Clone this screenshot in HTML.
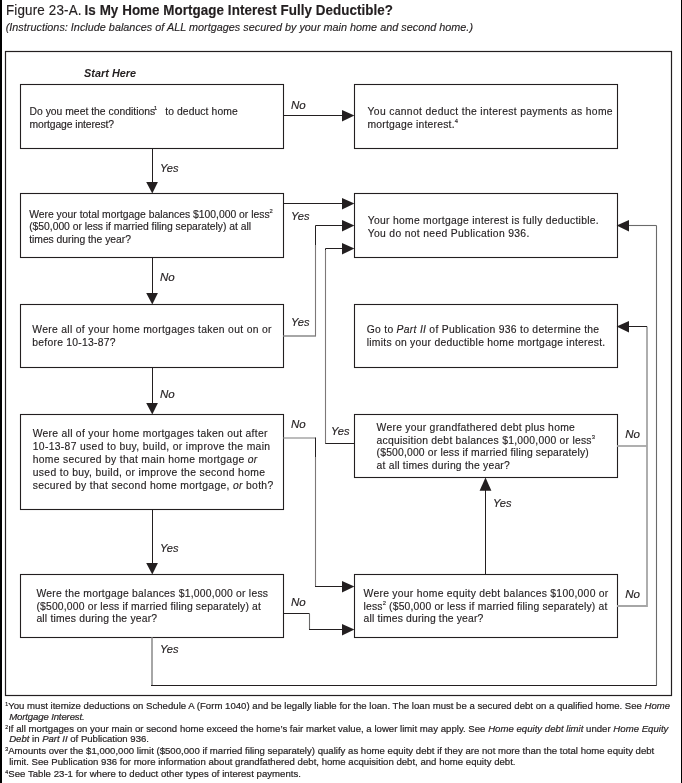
<!DOCTYPE html>
<html><head><meta charset="utf-8"><style>
html,body{margin:0;padding:0;background:#fff;}
body{width:682px;height:783px;overflow:hidden;position:relative;}
svg{position:absolute;left:0;top:0;will-change:transform;}
text.fn{stroke-width:0.2px;}
text{font-family:"Liberation Sans",sans-serif;fill:#231f20;stroke:#231f20;stroke-width:0.15px;white-space:pre;}
</style></head><body>
<svg width="682" height="783" viewBox="0 0 682 783">
<rect x="0" y="0" width="2" height="783" fill="#000"/>
<rect x="681" y="0" width="1" height="783" fill="#000"/>
<rect x="20.5" y="84.5" width="263" height="64" fill="none" stroke="#231f20" stroke-width="1.1"/>
<rect x="354.5" y="84.5" width="263" height="64" fill="none" stroke="#231f20" stroke-width="1.1"/>
<rect x="20.5" y="193.5" width="263" height="64" fill="none" stroke="#231f20" stroke-width="1.1"/>
<rect x="354.5" y="193.5" width="263" height="64" fill="none" stroke="#231f20" stroke-width="1.1"/>
<rect x="20.5" y="304.5" width="263" height="63" fill="none" stroke="#231f20" stroke-width="1.1"/>
<rect x="354.5" y="304.5" width="263" height="63" fill="none" stroke="#231f20" stroke-width="1.1"/>
<rect x="20.5" y="414.5" width="263" height="95" fill="none" stroke="#231f20" stroke-width="1.1"/>
<rect x="354.5" y="414.5" width="263" height="63" fill="none" stroke="#231f20" stroke-width="1.1"/>
<rect x="20.5" y="574.5" width="263" height="63" fill="none" stroke="#231f20" stroke-width="1.1"/>
<rect x="354.5" y="574.5" width="263" height="63" fill="none" stroke="#231f20" stroke-width="1.1"/>
<rect x="5.5" y="51.5" width="666" height="644" fill="none" stroke="#231f20" stroke-width="1.2"/>
<path d="M283.5,115.5 L343,115.5" fill="none" stroke="#231f20" stroke-width="1.0"/>
<polygon points="342,109.9 354.4,115.5 342,121.6" fill="#231f20"/>
<path d="M152.5,148.5 L152.5,183" fill="none" stroke="#231f20" stroke-width="1.0"/>
<polygon points="146.2,182 157.9,182 152.3,193.4" fill="#231f20"/>
<path d="M152.5,257.5 L152.5,294" fill="none" stroke="#231f20" stroke-width="1.0"/>
<polygon points="146.2,293 157.9,293 152.3,304.4" fill="#231f20"/>
<path d="M152.5,367.5 L152.5,404" fill="none" stroke="#231f20" stroke-width="1.0"/>
<polygon points="146.2,403 157.9,403 152.3,414.4" fill="#231f20"/>
<path d="M152.5,509.5 L152.5,564" fill="none" stroke="#231f20" stroke-width="1.0"/>
<polygon points="146.2,563 157.9,563 152.3,574.4" fill="#231f20"/>
<path d="M283.5,203.5 L343,203.5" fill="none" stroke="#231f20" stroke-width="1.0"/>
<polygon points="342,197.9 354.4,203.5 342,209.6" fill="#231f20"/>
<path d="M283.5,336 L315.5,336" fill="none" stroke="#a6a6a6" stroke-width="1.8"/>
<path d="M315.5,336.5 L315.5,245" fill="none" stroke="#7d7878" stroke-width="1.1"/>
<path d="M315.5,245 L315.5,225.5 L343,225.5" fill="none" stroke="#231f20" stroke-width="1.0"/>
<polygon points="342,219.9 354.4,225.5 342,231.6" fill="#231f20"/>
<path d="M354,443.5 L325,443.5" fill="none" stroke="#231f20" stroke-width="1.0"/>
<path d="M325.5,443.5 L325.5,250" fill="none" stroke="#7d7878" stroke-width="1.1"/>
<path d="M325.5,250 L325.5,248.5 L343,248.5" fill="none" stroke="#231f20" stroke-width="1.0"/>
<polygon points="342,242.9 354.4,248.5 342,254.6" fill="#231f20"/>
<path d="M283.5,438 L315.5,438" fill="none" stroke="#a6a6a6" stroke-width="1.6"/>
<path d="M315.5,437.5 L315.5,457" fill="none" stroke="#231f20" stroke-width="1.0"/>
<path d="M315.5,457 L315.5,586.5" fill="none" stroke="#7d7878" stroke-width="1.1"/>
<path d="M315,586.5 L343,586.5" fill="none" stroke="#231f20" stroke-width="1.0"/>
<polygon points="342,580.9 354.4,586.5 342,592.6" fill="#231f20"/>
<path d="M283.5,613.5 L309.5,613.5" fill="none" stroke="#231f20" stroke-width="1.0"/>
<path d="M309.5,613.5 L309.5,629.5" fill="none" stroke="#6a6a6a" stroke-width="1.1"/>
<path d="M309,629.5 L343,629.5" fill="none" stroke="#231f20" stroke-width="1.0"/>
<polygon points="342,623.9 354.4,629.5 342,635.6" fill="#231f20"/>
<path d="M152,637.5 L152,685.5" fill="none" stroke="#a6a6a6" stroke-width="2.0"/>
<path d="M151,685.5 L656.5,685.5 L656.5,684" fill="none" stroke="#231f20" stroke-width="1.0"/>
<path d="M656.5,685 L656.5,225.5" fill="none" stroke="#6a6a6a" stroke-width="1.1"/>
<path d="M656.5,225.5 L628,225.5" fill="none" stroke="#6a6a6a" stroke-width="1.1"/>
<polygon points="629,219.9 616.6,225.5 629,231.6" fill="#231f20"/>
<path d="M485.5,574 L485.5,489" fill="none" stroke="#231f20" stroke-width="1.0"/>
<polygon points="479.6,490.7 491.4,490.7 485.5,477.5" fill="#231f20"/>
<path d="M617,446 L647,446" fill="none" stroke="#a6a6a6" stroke-width="1.8"/>
<path d="M617,606 L647,606 L647,326.5" fill="none" stroke="#a6a6a6" stroke-width="1.8"/>
<path d="M647,326.5 L628,326.5" fill="none" stroke="#231f20" stroke-width="1.0"/>
<polygon points="629,320.9 616.6,326.5 629,332.6" fill="#231f20"/>
<text x="29.5" y="114.8" font-size="10.35" textLength="127.7" lengthAdjust="spacing" >Do you meet the conditions<tspan font-size="5.8" baseline-shift="5.3" dx="-1.2">1</tspan></text>
<text x="165.2" y="114.8" font-size="10.35" textLength="72.5" lengthAdjust="spacing" >to deduct home</text>
<text x="29.5" y="127.9" font-size="10.35" textLength="84.6" lengthAdjust="spacing" >mortgage interest?</text>
<text x="367.5" y="114.8" font-size="10.35" textLength="245.1" lengthAdjust="spacing" >You cannot deduct the interest payments as home</text>
<text x="367.5" y="127.9" font-size="10.35" textLength="90.5" lengthAdjust="spacing" >mortgage interest.<tspan font-size="5.8" baseline-shift="5.3" dx="0">4</tspan></text>
<text x="29.2" y="217.6" font-size="10.35" textLength="243.6" lengthAdjust="spacing" >Were your total mortgage balances $100,000 or less<tspan font-size="5.8" baseline-shift="5.3" dx="0">2</tspan></text>
<text x="29.2" y="230.3" font-size="10.35" textLength="221.8" lengthAdjust="spacing" >($50,000 or less if married filing separately) at all</text>
<text x="29.2" y="242.5" font-size="10.35" textLength="101.7" lengthAdjust="spacing" >times during the year?</text>
<text x="32.3" y="332.9" font-size="10.35" textLength="239.2" lengthAdjust="spacing" >Were all of your home mortgages taken out on or</text>
<text x="32.3" y="345.8" font-size="10.35" textLength="83.2" lengthAdjust="spacing" >before 10-13-87?</text>
<text x="32.7" y="436.8" font-size="10.35" textLength="234.7" lengthAdjust="spacing" >Were all of your home mortgages taken out after</text>
<text x="32.7" y="449.8" font-size="10.35" textLength="237.4" lengthAdjust="spacing" >10-13-87 used to buy, build, or improve the main</text>
<text x="32.7" y="462.7" font-size="10.35" textLength="224.5" lengthAdjust="spacing" >home secured by that main home mortgage <tspan font-style="italic">or</tspan></text>
<text x="32.7" y="476.0" font-size="10.35" textLength="232.3" lengthAdjust="spacing" >used to buy, build, or improve the second home</text>
<text x="32.7" y="489.0" font-size="10.35" textLength="240.5" lengthAdjust="spacing" >secured by that second home mortgage, <tspan font-style="italic">or</tspan> both?</text>
<text x="36.4" y="597.0" font-size="10.35" textLength="231.6" lengthAdjust="spacing" >Were the mortgage balances $1,000,000 or less</text>
<text x="36.4" y="610.0" font-size="10.35" textLength="224.5" lengthAdjust="spacing" >($500,000 or less if married filing separately) at</text>
<text x="36.4" y="622.0" font-size="10.35" textLength="120.7" lengthAdjust="spacing" >all times during the year?</text>
<text x="367.7" y="223.9" font-size="10.35" textLength="231.0" lengthAdjust="spacing" >Your home mortgage interest is fully deductible.</text>
<text x="367.7" y="236.8" font-size="10.35" textLength="161.6" lengthAdjust="spacing" >You do not need Publication 936.</text>
<text x="366.7" y="332.9" font-size="10.35" textLength="232.4" lengthAdjust="spacing" >Go to <tspan font-style="italic">Part II</tspan> of Publication 936 to determine the</text>
<text x="366.7" y="345.8" font-size="10.35" textLength="238.5" lengthAdjust="spacing" >limits on your deductible home mortgage interest.</text>
<text x="376.6" y="431.0" font-size="10.35" textLength="198.2" lengthAdjust="spacing" >Were your grandfathered debt plus home</text>
<text x="376.6" y="444.0" font-size="10.35" textLength="218.4" lengthAdjust="spacing" >acquisition debt balances $1,000,000 or less<tspan font-size="5.8" baseline-shift="5.3" dx="0">3</tspan></text>
<text x="376.6" y="456.0" font-size="10.35" textLength="212.2" lengthAdjust="spacing" >($500,000 or less if married filing separately)</text>
<text x="376.6" y="469.0" font-size="10.35" textLength="133.2" lengthAdjust="spacing" >at all times during the year?</text>
<text x="363.6" y="597.0" font-size="10.35" textLength="244.7" lengthAdjust="spacing" >Were your home equity debt balances $100,000 or</text>
<text x="363.6" y="610.0" font-size="10.35" textLength="243.7" lengthAdjust="spacing" >less<tspan font-size="5.8" baseline-shift="5.3" dx="0">2</tspan> ($50,000 or less if married filing separately) at</text>
<text x="363.6" y="622.0" font-size="10.35" textLength="119.7" lengthAdjust="spacing" >all times during the year?</text>
<text transform="translate(0 14.9) scale(1 1.08)" x="6.0" y="0" font-size="13.4" textLength="75.5" lengthAdjust="spacing" >Figure 23-A.</text>
<text transform="translate(0 14.9) scale(1 1.08)" x="84.6" y="0" font-size="13.4" textLength="308.4" lengthAdjust="spacing" font-weight="bold">Is My Home Mortgage Interest Fully Deductible?</text>
<text x="5.7" y="31.2" font-size="10.8" textLength="467.3" lengthAdjust="spacing" font-style="italic">(Instructions: Include balances of ALL mortgages secured by your main home and second home.)</text>
<text transform="translate(0 709.0) scale(1 1.04)" x="5.3" y="0" font-size="9.6" textLength="664.9" lengthAdjust="spacing" class="fn"><tspan font-size="5.2" baseline-shift="3.4" dx="0">1</tspan><tspan dx="0.8"></tspan>You must itemize deductions on Schedule A (Form 1040) and be legally liable for the loan. The loan must be a secured debt on a qualified home. See <tspan font-style="italic">Home</tspan></text>
<text transform="translate(0 720.0) scale(1 1.04)" x="9.2" y="0" font-size="9.6" textLength="75.5" lengthAdjust="spacing" class="fn"><tspan font-style="italic">Mortgage Interest.</tspan></text>
<text transform="translate(0 732.0) scale(1 1.04)" x="5.3" y="0" font-size="9.6" textLength="663.1" lengthAdjust="spacing" class="fn"><tspan font-size="5.2" baseline-shift="3.4" dx="0">2</tspan><tspan dx="0.8"></tspan>If all mortgages on your main or second home exceed the home’s fair market value, a lower limit may apply. See <tspan font-style="italic">Home equity debt limit</tspan> under <tspan font-style="italic">Home Equity</tspan></text>
<text transform="translate(0 742.0) scale(1 1.04)" x="9.2" y="0" font-size="9.6" textLength="139.8" lengthAdjust="spacing" class="fn"><tspan font-style="italic">Debt</tspan> in <tspan font-style="italic">Part II</tspan> of Publication 936.</text>
<text transform="translate(0 754.0) scale(1 1.04)" x="5.3" y="0" font-size="9.6" textLength="649.0" lengthAdjust="spacing" class="fn"><tspan font-size="5.2" baseline-shift="3.4" dx="0">3</tspan><tspan dx="0.8"></tspan>Amounts over the $1,000,000 limit ($500,000 if married filing separately) qualify as home equity debt if they are not more than the total home equity debt</text>
<text transform="translate(0 765.0) scale(1 1.04)" x="9.2" y="0" font-size="9.6" textLength="506.3" lengthAdjust="spacing" class="fn">limit. See Publication 936 for more information about grandfathered debt, home acquisition debt, and home equity debt.</text>
<text transform="translate(0 777.0) scale(1 1.04)" x="5.3" y="0" font-size="9.6" textLength="295.7" lengthAdjust="spacing" class="fn"><tspan font-size="5.2" baseline-shift="3.4" dx="0">4</tspan><tspan dx="0.8"></tspan>See Table 23-1 for where to deduct other types of interest payments.</text>
<text transform="translate(291 109.2) scale(1.1 1)" x="0" y="0" font-size="10.5" font-style="italic">No</text>
<text transform="translate(160 171.7) scale(1.06 1)" x="0" y="0" font-size="10.5" font-style="italic">Yes</text>
<text transform="translate(291 219.7) scale(1.06 1)" x="0" y="0" font-size="10.5" font-style="italic">Yes</text>
<text transform="translate(160 280.6) scale(1.1 1)" x="0" y="0" font-size="10.5" font-style="italic">No</text>
<text transform="translate(291 325.9) scale(1.06 1)" x="0" y="0" font-size="10.5" font-style="italic">Yes</text>
<text transform="translate(160 397.7) scale(1.1 1)" x="0" y="0" font-size="10.5" font-style="italic">No</text>
<text transform="translate(291 427.8) scale(1.1 1)" x="0" y="0" font-size="10.5" font-style="italic">No</text>
<text transform="translate(331 434.8) scale(1.06 1)" x="0" y="0" font-size="10.5" font-style="italic">Yes</text>
<text transform="translate(625.3 438.0) scale(1.1 1)" x="0" y="0" font-size="10.5" font-style="italic">No</text>
<text transform="translate(493 506.8) scale(1.06 1)" x="0" y="0" font-size="10.5" font-style="italic">Yes</text>
<text transform="translate(160 551.9) scale(1.06 1)" x="0" y="0" font-size="10.5" font-style="italic">Yes</text>
<text transform="translate(291 606.0) scale(1.1 1)" x="0" y="0" font-size="10.5" font-style="italic">No</text>
<text transform="translate(625.3 598.0) scale(1.1 1)" x="0" y="0" font-size="10.5" font-style="italic">No</text>
<text transform="translate(160 652.8) scale(1.06 1)" x="0" y="0" font-size="10.5" font-style="italic">Yes</text>
<text x="84.1" y="77" font-size="10.9" font-style="italic" font-weight="bold" style="stroke-width:0" textLength="52" lengthAdjust="spacing">Start Here</text>
</svg>
</body></html>
